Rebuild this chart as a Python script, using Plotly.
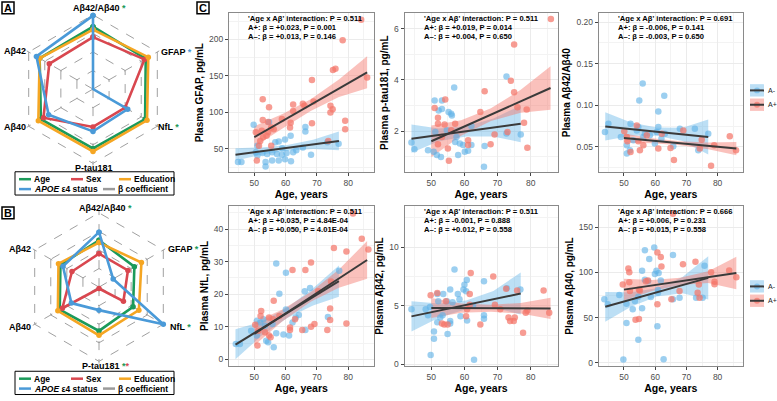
import plotly.graph_objects as go

W, H = 777, 401

# ---- radar data (order: top, then clockwise) ----
radar_axes = ['Aβ42/Aβ40', 'GFAP', 'NfL', 'P-tau181', 'Aβ40', 'Aβ42']

a_age = [0.84, 0.82, 0.81, 0.80, 0.81, 0.83]
a_sex = [0.70, 0.80, 0.50, 0.51, 0.77, 0.68]
a_edu = [0.80, 0.86, 0.84, 0.84, 0.85, 0.83]
a_apoe = [0.99, 0.0, 0.54, 0.57, 0.69, 0.88]

b_age = [0.63, 0.55, 0.53, 0.59, 0.61, 0.60]
b_sex = [0.45, 0.45, 0.38, 0.02, 0.57, 0.42]
b_edu = [0.60, 0.66, 0.62, 0.65, 0.64, 0.63]
b_apoe = [0.74, 0.22, 1.0, 0.31, 0.43, 0.56]

# ---- scatter data: A- (blue) and A+ (red) ----
gfap_neg_age = [49.8, 44.8, 45.9, 53.6, 53.6, 55.7, 57.8, 59.8, 61.7, 68.1, 66.3, 66.3, 61.6, 59.8, 57.8, 56.7,
                58.9, 63.4, 65.5, 76.9, 73.3, 54.7, 50.5, 52.6, 54.1, 55.7, 57.2, 60.3, 62.4, 51.0, 58.8, 51.0]
gfap_neg = [83, 32, 32, 32, 26, 34, 34, 36, 33, 42, 80, 74, 68, 63, 60, 59,
            51, 48, 52, 57, 59, 87, 45.5, 44.5, 43, 45.5, 43, 44.5, 45.5, 41, 42, 54.5]
gfap_pos_age = [84.1, 78.2, 75.9, 75.1, 86.0, 68.4, 52.7, 54.7, 62.4, 65.5, 66.0, 68.9, 74.3, 75.0, 74.3, 62.4, 50.5, 52.7,
                54.4, 55.4, 56.2, 54.4, 61.4, 61.6, 58.8, 68.4, 79.0, 79.0, 52.8, 51.9, 51.5, 55.4, 52.4, 53.9, 73.6, 50.8]
gfap_pos = [227, 199, 160, 158, 148, 144.5, 118, 107, 111, 112, 109, 115, 109, 104.5, 100, 102, 72.7, 89.5,
            87, 79.5, 77, 72.7, 79.5, 86, 91, 85, 88.6, 77, 66, 61, 54.5, 54.5, 75, 68, 61, 34]

ptau_neg_age = [51.0, 53.2, 56.9, 72.7, 52.2, 53.2, 55.2, 56.0, 56.2, 44.0, 44.9, 49.0, 50.7, 51.7, 52.9, 58.1,
                60.1, 61.1, 62.1, 59.6, 58.6, 65.9, 66.1, 77.0, 72.7, 51.2, 54.7, 57.6, 62.1, 57.2]
ptau_neg = [3.19, 3.19, 3.70, 4.13, 2.80, 2.86, 2.74, 2.67, 2.61, 1.55, 1.29, 1.25, 1.19, 1.06, 0.99, 1.06,
            1.19, 1.23, 1.45, 1.45, 1.51, 0.61, 1.42, 1.86, 1.90, 1.96, 2.03, 1.77, 2.20, 1.57]
ptau_pos_age = [86.1, 75.0, 74.0, 75.0, 66.1, 76.0, 78.8, 78.0, 79.0, 67.9, 64.8, 54.2, 51.0, 52.0, 52.0, 54.0,
                55.3, 55.0, 52.0, 61.1, 61.1, 69.1, 73.0, 53.2, 56.0, 57.2]
ptau_pos = [6.37, 5.38, 3.96, 3.51, 3.55, 2.93, 2.84, 2.32, 1.35, 1.48, 2.74, 3.23, 2.90, 2.52, 2.28, 2.25,
            0.84, 1.32, 1.48, 1.64, 1.45, 1.86, 1.96, 1.77, 2.03, 2.28]

ratio_neg_age = [56.0, 54.9, 62.9, 61.0, 43.9, 45.0, 49.0, 50.9, 50.9, 51.9, 52.1, 54.1, 54.6, 56.7, 58.3, 60.5,
                 61.0, 62.0, 65.8, 67.9, 72.7, 77.0, 73.8, 59.9, 63.1, 53.0, 56.2]
ratio_neg = [0.1262, 0.1056, 0.1115, 0.0925, 0.0679, 0.0778, 0.0619, 0.052, 0.042, 0.046, 0.0778, 0.0698, 0.0738,
             0.0659, 0.0639, 0.0679, 0.0738, 0.0599, 0.0508, 0.0718, 0.0718, 0.0659, 0.046, 0.054, 0.0659, 0.058, 0.0619]
ratio_pos_age = [54.1, 50.1, 52.1, 55.1, 56.2, 61.0, 64.9, 66.0, 77.9, 83.9, 85.9, 78.9, 74.3, 69.0, 62.1, 57.3,
                 54.6, 51.1, 74.9, 50.9]
ratio_pos = [0.0758, 0.0687, 0.044, 0.046, 0.052, 0.048, 0.0488, 0.0341, 0.0274, 0.0627, 0.046, 0.052, 0.048,
             0.0698, 0.0659, 0.0639, 0.0567, 0.0567, 0.0587, 0.0619]

nfl_neg_age = [57.0, 60.1, 58.0, 66.1, 67.8, 77.1, 73.5, 66.3, 61.1, 59.3, 56.2, 44.1, 45.4, 49.0, 50.8, 53.8,
               54.4, 57.0, 60.1, 62.2, 63.2, 51.9, 53.4, 50.8, 55.8, 64.2, 52.9]
nfl_neg = [29.4, 26.6, 20.1, 20.9, 21.9, 27.2, 13.0, 9.0, 7.3, 7.6, 3.7, 4.7, 4.7, 8.8, 7.3, 5.7,
           5.2, 8.0, 15.3, 11.3, 12.8, 11.3, 10.3, 11.8, 10.8, 13.6, 12.3]
nfl_pos_age = [81.5, 84.3, 79.4, 75.4, 86.4, 68.1, 62.2, 66.3, 74.5, 70.4, 56.2, 52.2, 52.0, 54.7, 56.0, 74.2,
               74.2, 73.3, 79.4, 69.2, 68.1, 65.3, 61.4, 61.4, 50.3, 51.3, 51.0, 54.7, 55.2, 53.4, 63.0, 58.0]
nfl_pos = [44.8, 37.0, 33.1, 34.2, 33.7, 29.7, 27.4, 27.4, 23.9, 20.9, 18.0, 14.8, 13.3, 12.8, 12.3, 15.6,
           12.1, 9.0, 11.0, 10.8, 10.0, 9.0, 9.8, 9.0, 10.6, 8.8, 4.2, 7.3, 6.8, 8.3, 12.3, 13.3]

ab42_neg_age = [57.0, 60.7, 60.0, 65.9, 55.7, 58.0, 59.7, 60.5, 56.4, 58.5, 54.7, 52.1, 51.8, 44.0, 48.3, 49.0,
                49.6, 50.8, 50.8, 49.8, 54.9, 55.7, 55.7, 52.7, 51.8, 53.4, 58.8, 60.8, 62.9, 65.9, 65.9, 76.9,
                72.8, 62.6, 53.6]
ab42_neg = [8.1, 7.2, 6.8, 7.1, 6.4, 6.0, 6.4, 6.25, 5.3, 5.55, 5.4, 5.4, 6.0, 4.7, 4.7, 4.2,
            4.9, 2.8, 2.2, 0.8, 2.6, 3.5, 3.7, 4.0, 3.6, 4.2, 4.1, 3.75, 0.4, 3.9, 4.2, 6.4,
            6.5, 5.0, 6.0]
ab42_pos_age = [61.9, 68.7, 61.6, 51.8, 49.8, 72.6, 75.9, 83.9, 85.6, 78.5, 73.3, 73.8, 75.2, 74.9, 77.7, 64.8,
                60.5, 54.9, 53.9, 53.2, 54.4, 61.6, 60.8, 69.2, 70.8, 79.0]
ab42_pos = [7.8, 7.5, 6.0, 6.1, 5.9, 6.45, 6.3, 6.3, 4.4, 4.4, 4.0, 3.7, 4.0, 3.7, 2.7, 3.4,
            4.1, 3.4, 3.4, 3.5, 5.4, 5.1, 4.7, 5.1, 4.7, 4.6]

ab40_neg_age = [59.7, 56.7, 58.1, 65.7, 55.8, 60.4, 61.1, 59.9, 61.8, 56.7, 57.7, 43.7, 44.8, 48.5, 50.8, 50.8,
                53.5, 52.8, 55.8, 54.6, 58.6, 60.9, 60.9, 60.7, 54.6, 49.8, 62.7, 65.7, 67.8, 73.1, 75.2, 75.8]
ab40_neg = [127.5, 124.5, 115, 119.4, 102, 102, 99.4, 98.3, 91, 92, 90.3, 70.3, 64.8, 75, 65.5, 44,
            68.5, 59.4, 60.5, 73.2, 72.8, 77.6, 80.5, 40.4, 25.5, 3.6, 4.0, 70.3, 72.1, 72.1, 72.1, 107.4]
ab40_pos_age = [65.7, 60.7, 61.8, 62.0, 51.4, 51.7, 68.9, 72.9, 77.9, 79.0, 79.0, 83.7, 86.0, 74.0, 74.2, 49.6,
                51.7, 55.1, 57.0, 57.7, 54.8, 53.7, 54.8, 60.7, 65.2, 67.8, 73.6, 51.9]
ab40_pos = [165, 122, 117, 106.7, 104.5, 100.1, 109.2, 111.8, 100.1, 89.6, 87.0, 102.3, 94.7, 86.7, 72.1, 86.7,
            89.2, 80.1, 90.3, 91.0, 81.2, 47.7, 48.4, 64.8, 70.3, 79.4, 77.6, 79.4]

# ---- fitted lines and 95% bands ----
neg_band_age = [44, 52.25, 60.5, 68.75, 77]
pos_band_age = [50, 59, 68, 77, 86]

gfap_neg_fit = [42, 46.75, 51.5, 56.25, 61]
gfap_neg_lo = [34, 42, 47.5, 50, 48]
gfap_neg_hi = [51, 52, 55.5, 62.5, 74]
gfap_pos_fit = [66, 88.25, 110.5, 132.75, 155]
gfap_pos_lo = [53, 78, 102, 121, 133]
gfap_pos_hi = [81, 98, 118, 145, 177]

ptau_neg_fit = [1.70, 1.845, 1.99, 2.135, 2.28]
ptau_neg_lo = [1.15, 1.6, 1.79, 1.79, 1.56]
ptau_neg_hi = [2.25, 2.1, 2.19, 2.49, 3.0]
ptau_pos_fit = [1.6, 2.12, 2.64, 3.16, 3.68]
ptau_pos_lo = [0.98, 1.82, 2.39, 2.71, 2.83]
ptau_pos_hi = [2.22, 2.42, 2.89, 3.61, 4.53]

ratio_neg_fit = [0.0746, 0.0714, 0.0683, 0.0651, 0.0619]
ratio_neg_lo = [0.0576, 0.0634, 0.0633, 0.0571, 0.0409]
ratio_neg_hi = [0.0916, 0.0794, 0.0733, 0.0731, 0.0829]
ratio_pos_fit = [0.0607, 0.0575, 0.0544, 0.0512, 0.048]
ratio_pos_lo = [0.0552, 0.0545, 0.0519, 0.0472, 0.040]
ratio_pos_hi = [0.0662, 0.0605, 0.0569, 0.0552, 0.056]

nfl_neg_fit = [4.5, 9.375, 14.25, 19.125, 24.0]
nfl_neg_lo = [0.0, 7.2, 12.65, 16.5, 19.2]
nfl_neg_hi = [9.2, 11.6, 15.85, 21.8, 28.8]
nfl_pos_fit = [7.8, 13.48, 19.15, 24.83, 30.5]
nfl_pos_lo = [4.2, 11.7, 17.65, 22.0, 24.7]
nfl_pos_hi = [11.4, 15.3, 20.65, 27.6, 36.3]

ab42_neg_fit = [4.1, 4.59, 5.08, 5.56, 6.05]
ab42_neg_lo = [2.8, 3.99, 4.7, 4.86, 4.25]
ab42_neg_hi = [5.4, 5.19, 5.46, 6.26, 7.85]
ab42_pos_fit = [4.82, 4.81, 4.80, 4.79, 4.78]
ab42_pos_lo = [3.97, 4.4, 4.5, 4.34, 3.88]
ab42_pos_hi = [5.67, 5.2, 5.1, 5.24, 5.68]

ab40_neg_fit = [62, 70, 78, 86, 94]
ab40_neg_lo = [45.5, 62, 73.5, 77, 70]
ab40_neg_hi = [78.5, 78, 82.5, 95, 118]
ab40_pos_fit = [81, 85.6, 90.25, 94.9, 99.5]
ab40_pos_lo = [69, 79.6, 86.25, 88.4, 81.5]
ab40_pos_hi = [93, 91.6, 94.25, 101.4, 117.5]

stats = [
    ['0.511', '+0.023, P = 0.001', '+0.013, P = 0.146'],
    ['0.511', '+0.019, P = 0.014', '+0.004, P = 0.650'],
    ['0.691', '-0.006, P = 0.141', '-0.003, P = 0.650'],
    ['0.511', '+0.035, P = 4.84E-04', '+0.050, P = 4.01E-04'],
    ['0.511', '-0.001, P = 0.888', '+0.012, P = 0.558'],
    ['0.666', '+0.006, P = 0.231', '+0.015, P = 0.558'],
]


def fx(p):
    return p / W


def fy(p):
    return 1 - p / H


FONT = 'Liberation Sans'
C_AGE, C_SEX, C_EDU, C_APOE, C_BETA = '#1b9a5a', '#d9474f', '#f5a623', '#4a9ad8', '#9a9a9a'
BLUE_PT, RED_PT = 'rgba(96,178,230,0.62)', 'rgba(244,118,106,0.72)'
BLUE_BAND, RED_BAND = 'rgba(96,178,230,0.42)', 'rgba(244,118,106,0.45)'

fig = go.Figure()
shapes, annots = [], []

# ---- radar charts ----
for pol, series in [('polar', [a_age, a_sex, a_edu, a_apoe]), ('polar2', [b_age, b_sex, b_edu, b_apoe])]:
    for vals, col in zip(series, [C_AGE, C_SEX, C_EDU, C_APOE]):
        fig.add_trace(go.Scatterpolar(r=vals + vals[:1], theta=radar_axes + radar_axes[:1], subplot=pol,
                                      mode='lines+markers', line=dict(color=col, width=2.6),
                                      marker=dict(size=5.5, color=col), showlegend=False, hoverinfo='skip'))

RMAX = 1.03
polar_common = dict(
    bgcolor='white', gridshape='linear',
    radialaxis=dict(range=[0, RMAX], tickvals=[0.25, 0.5, 0.75, 1.0], showticklabels=False, ticks='',
                    showline=False, gridcolor='#a0a0a0', griddash='dash', gridwidth=1),
    angularaxis=dict(direction='clockwise', rotation=90, showticklabels=False, ticks='',
                     showline=False, gridcolor='#a0a0a0', griddash='dash', gridwidth=1),
)
R = 75 * RMAX
polA = dict(domain=dict(x=[fx(93 - R), fx(93 + R)], y=[fy(90 + R), fy(90 - R)]), **polar_common)
polB = dict(domain=dict(x=[fx(99 - R), fx(99 + R)], y=[fy(290 + R), fy(290 - R)]), **polar_common)


def star(c):
    return "<span style='color:%s'>*</span>" % c


def lab(x, y, text, anchor='left', size=9):
    annots.append(dict(x=fx(x), y=fy(y), xref='paper', yref='paper', text='<b>%s</b>' % text, showarrow=False,
                       xanchor=anchor, yanchor='middle', font=dict(family=FONT, size=size, color='black')))


# radar A labels
lab(71, 8.5, 'Aβ42/Aβ40 ' + star(C_AGE))
lab(159, 53, 'GFAP ' + star(C_APOE))
lab(156, 128, 'NfL ' + star(C_AGE))
lab(93.5, 170, 'P-tau181', 'center')
lab(28, 128, 'Aβ40', 'right')
lab(28, 52, 'Aβ42', 'right')
# radar B labels
lab(77, 210, 'Aβ42/Aβ40 ' + star(C_AGE))
lab(166, 252, 'GFAP ' + star(C_AGE))
lab(168, 330, 'NfL ' + star(C_AGE))
lab(80, 370, 'P-tau181 ' + star(C_AGE) + star(C_SEX))
lab(33, 330, 'Aβ40', 'right')
lab(33, 252, 'Aβ42', 'right')

# radar legends (drawn as boxes)
for top in (173.5, 375):
    shapes.append(dict(type='rect', xref='paper', yref='paper', x0=fx(15), x1=fx(174), y0=fy(top), y1=fy(top + 23.5),
                       line=dict(color='black', width=1)))
    r1, r2 = top + 7.5, top + 17.5
    for x0, y, col, txt in [(19, r1, C_AGE, 'Age'), (71, r1, C_SEX, 'Sex'), (119, r1, C_EDU, 'Education'),
                            (19, r2, C_APOE, '<i>APOE</i> ε4 status'), (103, r2, C_BETA, 'β coefficient')]:
        shapes.append(dict(type='line', xref='paper', yref='paper', x0=fx(x0), x1=fx(x0 + 12), y0=fy(y), y1=fy(y),
                           line=dict(color=col, width=2.5)))
        lab(x0 + 13, y, txt, 'left', 8.5)

# panel letters
for x0, y0, t in [(2, 2, 'A'), (2, 209, 'B'), (197, 2, 'C')]:
    shapes.append(dict(type='rect', xref='paper', yref='paper', x0=fx(x0), x1=fx(x0 + 12), y0=fy(y0), y1=fy(y0 + 12),
                       line=dict(color='black', width=1.5)))
    lab(x0 + 6, y0 + 6.5, t, 'center', 11)

# ---- scatter panels ----
panels = [
    (gfap_neg_age, gfap_neg, gfap_pos_age, gfap_pos, gfap_neg_fit, gfap_neg_lo, gfap_neg_hi,
     gfap_pos_fit, gfap_pos_lo, gfap_pos_hi, 'Plasma GFAP, pg/mL', [18, 236], 50, None),
    (ptau_neg_age, ptau_neg, ptau_pos_age, ptau_pos, ptau_neg_fit, ptau_neg_lo, ptau_neg_hi,
     ptau_pos_fit, ptau_pos_lo, ptau_pos_hi, 'Plasma p-tau181, pg/mL', [0.39, 6.6], 2, None),
    (ratio_neg_age, ratio_neg, ratio_pos_age, ratio_pos, ratio_neg_fit, ratio_neg_lo, ratio_neg_hi,
     ratio_pos_fit, ratio_pos_lo, ratio_pos_hi, 'Plasma Aβ42/Aβ40', [0.0195, 0.2107], 0.05, '.2f'),
    (nfl_neg_age, nfl_neg, nfl_pos_age, nfl_pos, nfl_neg_fit, nfl_neg_lo, nfl_neg_hi,
     nfl_pos_fit, nfl_pos_lo, nfl_pos_hi, 'Plasma NfL, pg/mL', [-2.0, 47], 10, None),
    (ab42_neg_age, ab42_neg, ab42_pos_age, ab42_pos, ab42_neg_fit, ab42_neg_lo, ab42_neg_hi,
     ab42_pos_fit, ab42_pos_lo, ab42_pos_hi, 'Plasma Aβ42, pg/mL', [-0.12, 13.5], 5, None),
    (ab40_neg_age, ab40_neg, ab40_pos_age, ab40_pos, ab40_neg_fit, ab40_neg_lo, ab40_neg_hi,
     ab40_pos_fit, ab40_pos_lo, ab40_pos_hi, 'Plasma Aβ40, pg/mL', [-3.3, 173.3], 50, None),
]
cols = [(228.9, 373.7), (404.5, 557.5), (598.7, 742.9)]
rows = [(13.3, 174), (208.3, 369.5)]

layout_axes = {}
for i, p in enumerate(panels):
    (na, nv, pa, pv, nfit, nlo, nhi, pfit, plo, phi, ytitle, yr, ydt, yfmt) = p
    k = '' if i == 0 else str(i + 1)
    xa, ya = 'x' + k, 'y' + k
    c0, c1 = cols[i % 3]
    r0, r1 = rows[i // 3]
    for ages, fit, lo, hi, band in [(neg_band_age, nfit, nlo, nhi, BLUE_BAND), (pos_band_age, pfit, plo, phi, RED_BAND)]:
        fig.add_trace(go.Scatter(x=ages + ages[::-1], y=hi + lo[::-1], fill='toself', fillcolor=band,
                                 mode='lines', line=dict(width=0), xaxis=xa, yaxis=ya, showlegend=False,
                                 hoverinfo='skip'))
    fig.add_trace(go.Scatter(x=na, y=nv, mode='markers', marker=dict(size=6.5, color=BLUE_PT, line=dict(width=0)),
                             xaxis=xa, yaxis=ya, showlegend=False))
    fig.add_trace(go.Scatter(x=pa, y=pv, mode='markers', marker=dict(size=6.5, color=RED_PT, line=dict(width=0)),
                             xaxis=xa, yaxis=ya, showlegend=False))
    for ages, fit in [(neg_band_age, nfit), (pos_band_age, pfit)]:
        fig.add_trace(go.Scatter(x=ages, y=fit, mode='lines', line=dict(color='#3a3a3a', width=2),
                                 xaxis=xa, yaxis=ya, showlegend=False, hoverinfo='skip'))
    grid = dict(showgrid=True, gridcolor='#ebebeb', gridwidth=1, showline=True, mirror=True,
                linecolor='#8a8a8a', linewidth=1, ticks='outside', ticklen=3, tickcolor='#444',
                tickfont=dict(family=FONT, size=8.5, color='#4d4d4d'), zeroline=False)
    layout_axes['xaxis' + k] = dict(domain=[fx(c0), fx(c1)], anchor=ya, range=[41.9, 88.1], tick0=50, dtick=10,
                                    minor=dict(dtick=5, tick0=45, showgrid=True, gridcolor='#f3f3f3', gridwidth=0.6),
                                    title=dict(text='<b>Age, years</b>', standoff=3,
                                               font=dict(family=FONT, size=10.5, color='black')), **grid)
    layout_axes['yaxis' + k] = dict(domain=[fy(r1), fy(r0)], anchor=xa, range=yr, tick0=0, dtick=ydt,
                                    tickformat=yfmt,
                                    minor=dict(dtick=ydt / 2, tick0=0, showgrid=True, gridcolor='#f3f3f3', gridwidth=0.6),
                                    title=dict(text='<b>%s</b>' % ytitle, standoff=3,
                                               font=dict(family=FONT, size=10, color='black')), **grid)
    s = stats[i]
    ty = r0 + 5
    for j, line in enumerate(["'Age x Aβ' interaction: P = " + s[0], 'A+: β = ' + s[1], 'A–: β = ' + s[2]]):
        lab(c0 + 17, ty + j * 9.2, line, 'left', 7.6)

# scatter legends
for base in (85, 283):
    for j, (band, pt, txt) in enumerate([(BLUE_BAND, BLUE_PT, 'A-'), (RED_BAND, RED_PT, 'A+')]):
        y0 = base + j * 14.5
        shapes.append(dict(type='rect', xref='paper', yref='paper', x0=fx(750), x1=fx(764), y0=fy(y0), y1=fy(y0 + 12.5),
                           fillcolor=band, line=dict(width=0)))
        shapes.append(dict(type='circle', xref='paper', yref='paper', x0=fx(754), x1=fx(760), y0=fy(y0 + 3.3),
                           y1=fy(y0 + 9.3), fillcolor=pt, line=dict(width=0)))
        shapes.append(dict(type='line', xref='paper', yref='paper', x0=fx(750), x1=fx(764), y0=fy(y0 + 6.3),
                           y1=fy(y0 + 6.3), line=dict(color='#3a3a3a', width=2)))
        annots.append(dict(x=fx(766), y=fy(y0 + 6.3), xref='paper', yref='paper', text=txt, showarrow=False,
                           xanchor='left', yanchor='middle', font=dict(family=FONT, size=7, color='#222')))

fig.update_layout(width=W, height=H, margin=dict(l=0, r=0, t=0, b=0), plot_bgcolor='white', paper_bgcolor='white',
                  polar=polA, polar2=polB, shapes=shapes, annotations=annots, showlegend=False,
                  font=dict(family=FONT), **layout_axes)

fig.write_html("out.html", config={'displayModeBar': False},
               post_script="document.body.style.margin='0';")
